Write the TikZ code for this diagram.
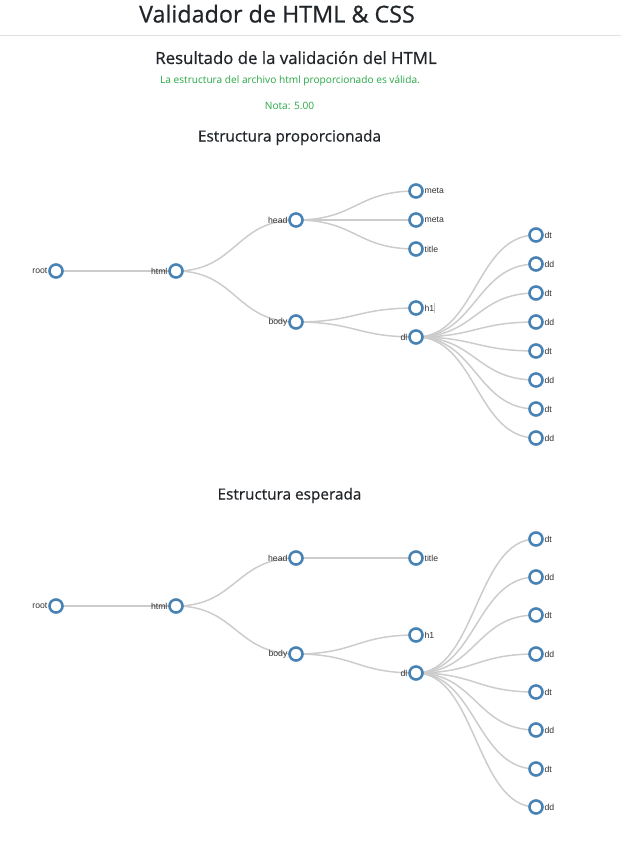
\documentclass[tikz,border=0pt]{standalone}
\usepackage{fontspec}
\setmainfont{Open Sans}
\newfontfamily\medfont[FakeBold=0.6]{Open Sans}
\newfontfamily\lblfont{Liberation Sans}
\usetikzlibrary{backgrounds}
\definecolor{steel}{HTML}{4682B4}
\definecolor{linkgray}{HTML}{CCCCCC}
\definecolor{okgreen}{HTML}{28A745}
\definecolor{heading}{HTML}{212529}
\definecolor{lblgray}{HTML}{333333}
\definecolor{rulegray}{HTML}{DEE2E6}
\begin{document}
\begin{tikzpicture}[x=0.75pt,y=-0.75pt,
  tn/.style={circle,draw=steel,fill=white,line width=1.9pt,minimum size=9.8pt,inner sep=0pt},
  lbl/.style={font=\lblfont\fontsize{6.5}{7}\selectfont,text=lblgray,inner sep=0pt},
  inl/.style={tn,label={[lbl,label distance=0.4pt]left:#1}},
  leaf/.style={tn,label={[lbl,label distance=0.4pt]right:#1}},
  link/.style={draw=linkgray,line width=1.1pt},
  ttl/.style={text=heading,inner sep=0pt,anchor=base},
  grn/.style={text=okgreen,inner sep=0pt,anchor=base,font=\fontsize{7.6}{9}\selectfont}
]
\useasboundingbox (0,0) rectangle (621,842);
% header
\node[ttl,font=\medfont\fontsize{17.5}{20}\selectfont] (title) at (277,22.5) {Validador de HTML \& CSS};
\draw[rulegray,line width=0.75pt] (0,35.5) -- (621,35.5);
\node[ttl,font=\medfont\fontsize{12.6}{15}\selectfont] (res) at (296,64) {Resultado de la validación del HTML};
\node[grn] (msg) at (290,83.5) {La estructura del archivo html proporcionado es válida.};
\node[grn] (nota) at (289.5,109.5) {Nota: 5.00};
\node[ttl,font=\medfont\fontsize{11.5}{14}\selectfont] (s1) at (289.5,141.5) {Estructura proporcionada};
\node[ttl,font=\medfont\fontsize{11.5}{14}\selectfont] (s2) at (289.5,499.5) {Estructura esperada};

% tree 1
\node[inl=root] (a-root) at (56,271) {};
\node[inl=html] (a-html) at (176,271) {};
\node[inl=head] (a-head) at (296,220) {};
\node[inl=body] (a-body) at (296,322) {};
\node[leaf=meta] (a-meta1) at (416,191) {};
\node[leaf=meta] (a-meta2) at (416,220) {};
\node[leaf=title] (a-title) at (416,249) {};
\node[leaf={h1{\color{black!25}\rule[-1.2pt]{0.7pt}{7pt}}}] (a-h1) at (416,308) {};
\node[inl=dl] (a-dl) at (416,337) {};
\node[leaf=dt] (a-c1) at (536,235) {};
\node[leaf=dd] (a-c2) at (536,264) {};
\node[leaf=dt] (a-c3) at (536,293) {};
\node[leaf=dd] (a-c4) at (536,322) {};
\node[leaf=dt] (a-c5) at (536,351) {};
\node[leaf=dd] (a-c6) at (536,380) {};
\node[leaf=dt] (a-c7) at (536,409) {};
\node[leaf=dd] (a-c8) at (536,438) {};

% tree 2
\node[inl=root] (b-root) at (56,606) {};
\node[inl=html] (b-html) at (176,606) {};
\node[inl=head] (b-head) at (296,558) {};
\node[inl=body] (b-body) at (296,654) {};
\node[leaf=title] (b-title) at (416,558) {};
\node[leaf=h1] (b-h1) at (416,635) {};
\node[inl=dl] (b-dl) at (416,673) {};
\node[leaf=dt] (b-c1) at (536,539) {};
\node[leaf=dd] (b-c2) at (536,577) {};
\node[leaf=dt] (b-c3) at (536,615) {};
\node[leaf=dd] (b-c4) at (536,654) {};
\node[leaf=dt] (b-c5) at (536,692) {};
\node[leaf=dd] (b-c6) at (536,730) {};
\node[leaf=dt] (b-c7) at (536,769) {};
\node[leaf=dd] (b-c8) at (536,807) {};

\begin{scope}[on background layer]
\fill[white] (0,0) rectangle (621,842);
\foreach \p/\c in {a-root/a-html,a-html/a-head,a-html/a-body,a-head/a-meta1,a-head/a-meta2,a-head/a-title,a-body/a-h1,a-body/a-dl,a-dl/a-c1,a-dl/a-c2,a-dl/a-c3,a-dl/a-c4,a-dl/a-c5,a-dl/a-c6,a-dl/a-c7,a-dl/a-c8,
  b-root/b-html,b-html/b-head,b-html/b-body,b-head/b-title,b-body/b-h1,b-body/b-dl,b-dl/b-c1,b-dl/b-c2,b-dl/b-c3,b-dl/b-c4,b-dl/b-c5,b-dl/b-c6,b-dl/b-c7,b-dl/b-c8}
  \draw[link] (\p.center) .. controls +(60,0) and +(-60,0) .. (\c.center);
\end{scope}
\end{tikzpicture}
\end{document}
